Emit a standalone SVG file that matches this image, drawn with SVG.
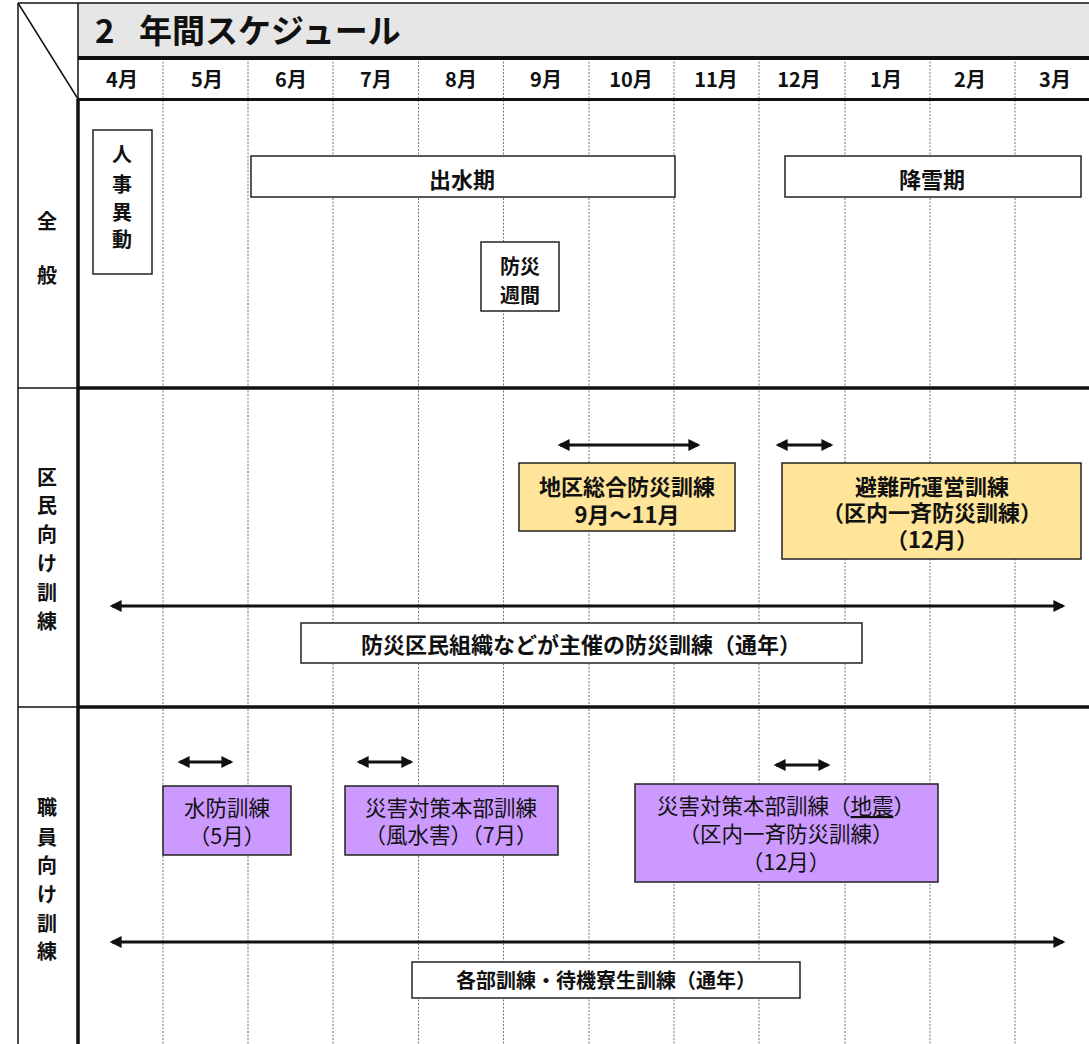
<svg xmlns="http://www.w3.org/2000/svg" width="1089" height="1044" viewBox="0 0 1089 1044">
<defs>
<style>
text{font-family:"Noto Sans CJK JP","Noto Sans",sans-serif;fill:#111;text-anchor:middle}
.b{font-weight:bold}
.m{font-size:20px;font-weight:bold}
.t{font-size:22px}
.s{font-size:21.5px}
.l{font-size:20px;font-weight:bold}
.grid{stroke:#777;stroke-width:1;stroke-dasharray:2 1.5}
.box{fill:#fff;stroke:#222;stroke-width:1.5}
.yel{fill:#ffe599;stroke:#222;stroke-width:1.5}
.pur{fill:#cc99ff;stroke:#222;stroke-width:1.5}
.arr{stroke:#111;stroke-width:3;fill:none;marker-start:url(#a);marker-end:url(#a)}
</style>
<marker id="a" viewBox="0 0 10 10" refX="8" refY="5" markerWidth="4.5" markerHeight="4" orient="auto-start-reverse" markerUnits="strokeWidth">
<path d="M0,0 L10,5 L0,10 z" fill="#111"/>
</marker>
</defs>
<rect width="1089" height="1044" fill="#fff"/>
<g id="frame">
<rect x="78" y="3" width="1011" height="55" fill="#e6e6e6"/>
<g class="grid">
<line x1="163" y1="58" x2="163" y2="1044"/>
<line x1="248" y1="58" x2="248" y2="1044"/>
<line x1="333" y1="58" x2="333" y2="1044"/>
<line x1="418.5" y1="58" x2="418.5" y2="1044"/>
<line x1="503.5" y1="58" x2="503.5" y2="1044"/>
<line x1="589" y1="58" x2="589" y2="1044"/>
<line x1="674" y1="58" x2="674" y2="1044"/>
<line x1="759" y1="58" x2="759" y2="1044"/>
<line x1="845" y1="58" x2="845" y2="1044"/>
<line x1="930" y1="58" x2="930" y2="1044"/>
<line x1="1015" y1="58" x2="1015" y2="1044"/>
</g>
<line x1="18" y1="3" x2="1089" y2="3" stroke="#111" stroke-width="1.5"/>
<line x1="18" y1="3" x2="18" y2="1044" stroke="#111" stroke-width="1.5"/>
<line x1="78" y1="3" x2="78" y2="100" stroke="#111" stroke-width="1.5"/>
<line x1="78" y1="99" x2="78" y2="1044" stroke="#111" stroke-width="3.5"/>
<line x1="18" y1="3" x2="78" y2="99" stroke="#111" stroke-width="1.5"/>
<line x1="78" y1="58" x2="1089" y2="58" stroke="#111" stroke-width="4"/>
<line x1="78" y1="99.5" x2="1089" y2="99.5" stroke="#111" stroke-width="3"/>
<line x1="18" y1="388" x2="78" y2="388" stroke="#111" stroke-width="1.5"/>
<line x1="78" y1="388" x2="1089" y2="388" stroke="#111" stroke-width="3.5"/>
<line x1="18" y1="707" x2="78" y2="707" stroke="#111" stroke-width="1.5"/>
<line x1="78" y1="707" x2="1089" y2="707" stroke="#111" stroke-width="3.5"/>
<text x="95" y="43" style="font-size:33px;font-weight:bold;text-anchor:start">2</text>
<text x="139" y="43" style="font-size:33px;font-weight:bold;text-anchor:start">年間スケジュール</text>
</g>
<g id="months" class="m">
<text x="122" y="87">4月</text>
<text x="207" y="87">5月</text>
<text x="291" y="87">6月</text>
<text x="376" y="87">7月</text>
<text x="461" y="87">8月</text>
<text x="546" y="87">9月</text>
<text x="631" y="87">10月</text>
<text x="716" y="87">11月</text>
<text x="799" y="87">12月</text>
<text x="886" y="87">1月</text>
<text x="970" y="87">2月</text>
<text x="1055" y="87">3月</text>
</g>
<g id="row-labels" class="l">
<text x="47" y="229">全</text>
<text x="47" y="283">般</text>
<text x="47" y="485">区</text>
<text x="47" y="513">民</text>
<text x="47" y="542">向</text>
<text x="47" y="571">け</text>
<text x="47" y="600">訓</text>
<text x="47" y="629">練</text>
<text x="47" y="815">職</text>
<text x="47" y="845">員</text>
<text x="47" y="873">向</text>
<text x="47" y="902">け</text>
<text x="47" y="931">訓</text>
<text x="47" y="959">練</text>
</g>
<g id="connectors">
<line class="arr" x1="560" y1="445" x2="698" y2="445"/>
<line class="arr" x1="778" y1="445" x2="831" y2="445"/>
<line class="arr" x1="112" y1="606" x2="1063" y2="606"/>
<line class="arr" x1="180" y1="762" x2="231" y2="762"/>
<line class="arr" x1="359" y1="762" x2="411" y2="762"/>
<line class="arr" x1="776" y1="765" x2="828" y2="765"/>
<line class="arr" x1="112" y1="942" x2="1063" y2="942"/>
</g>
<g id="jinji">
<rect class="box" x="93" y="130" width="59" height="144"/>
<text class="l" x="122" y="162">人</text>
<text class="l" x="122" y="192">事</text>
<text class="l" x="122" y="220">異</text>
<text class="l" x="122" y="247">動</text>
</g>
<g id="shussuiki">
<rect class="box" x="251" y="156" width="424" height="41"/>
<text class="t b" x="462" y="188">出水期</text>
</g>
<g id="kousetsuki">
<rect class="box" x="785" y="156" width="296" height="41"/>
<text class="t b" x="932" y="188">降雪期</text>
</g>
<g id="bousai-shuukan">
<rect class="box" x="481" y="242" width="78" height="69"/>
<text class="l" x="520" y="274">防災</text>
<text class="l" x="520" y="303">週間</text>
</g>
<g id="chiku-sougou">
<rect class="yel" x="519" y="463" width="216" height="68"/>
<text class="t b" x="627" y="495">地区総合防災訓練</text>
<text class="t b" x="627" y="523">9月～11月</text>
</g>
<g id="hinanjo">
<rect class="yel" x="782" y="463" width="299" height="96"/>
<text class="t b" x="932" y="495">避難所運営訓練</text>
<text class="t b" x="932" y="521">（区内一斉防災訓練）</text>
<text class="t b" x="932" y="548">（12月）</text>
</g>
<g id="kumin-soshiki">
<rect class="box" x="301" y="623" width="561" height="40"/>
<text class="t b" x="581" y="653">防災区民組織などが主催の防災訓練（通年）</text>
</g>
<g id="suibou">
<rect class="pur" x="163" y="786" width="128" height="69"/>
<text class="s" x="227" y="816">水防訓練</text>
<text class="s" x="227" y="844">（5月）</text>
</g>
<g id="saigai-fuusui">
<rect class="pur" x="345" y="786" width="213" height="69"/>
<text class="s" x="451" y="816">災害対策本部訓練</text>
<text class="s" x="451" y="843">（風水害）（7月）</text>
</g>
<g id="saigai-jishin">
<rect class="pur" x="635" y="784" width="303" height="98"/>
<text class="s" x="786" y="814">災害対策本部訓練（<tspan text-decoration="underline">地震</tspan>）</text>
<text class="s" x="786" y="842">（区内一斉防災訓練）</text>
<text class="s" x="786" y="870">（12月）</text>
</g>
<g id="kakubu">
<rect class="box" x="412" y="962" width="388" height="36"/>
<text class="l" x="606" y="988">各部訓練・待機寮生訓練（通年）</text>
</g>
</svg>
